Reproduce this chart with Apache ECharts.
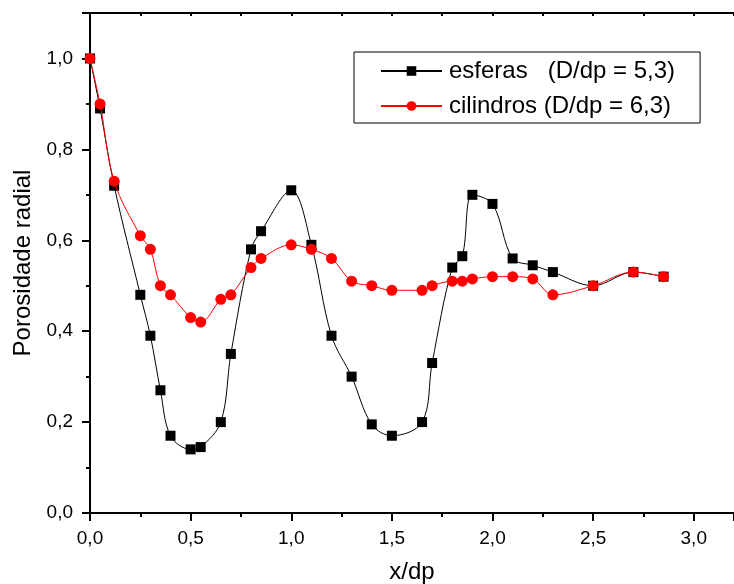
<!DOCTYPE html>
<html>
<head>
<meta charset="utf-8">
<script src="https://cdn.jsdelivr.net/npm/echarts@6/dist/echarts.min.js"></script>
<style>
html,body{margin:0;padding:0;background:#fff;}
#chart{width:734px;height:584px;}
</style>
</head>
<body>
<div id="chart"></div>
<script>
// x/dp positions
var xEsferas = [0, 0.05, 0.12, 0.25, 0.30, 0.35, 0.40, 0.50, 0.55, 0.65, 0.70, 0.80, 0.85, 1.00, 1.10, 1.20, 1.30, 1.40, 1.50, 1.65, 1.70, 1.80, 1.85, 1.90, 2.00, 2.10, 2.20, 2.30, 2.50, 2.70, 2.85];
var yEsferas = [1.00, 0.89, 0.72, 0.48, 0.39, 0.27, 0.17, 0.14, 0.145, 0.20, 0.35, 0.58, 0.62, 0.71, 0.59, 0.39, 0.30, 0.195, 0.17, 0.20, 0.33, 0.54, 0.565, 0.70, 0.68, 0.56, 0.545, 0.53, 0.50, 0.53, 0.52];
var xCilindros = [0, 0.05, 0.12, 0.25, 0.30, 0.35, 0.40, 0.50, 0.55, 0.65, 0.70, 0.80, 0.85, 1.00, 1.10, 1.20, 1.30, 1.40, 1.50, 1.65, 1.70, 1.80, 1.85, 1.90, 2.00, 2.10, 2.20, 2.30, 2.50, 2.70, 2.85];
var yCilindros = [1.00, 0.90, 0.73, 0.61, 0.58, 0.50, 0.48, 0.43, 0.42, 0.47, 0.48, 0.54, 0.56, 0.59, 0.58, 0.56, 0.51, 0.50, 0.49, 0.49, 0.50, 0.51, 0.51, 0.515, 0.52, 0.52, 0.515, 0.48, 0.50, 0.53, 0.52];
var seriesNames = ['esferas   (D/dp = 5,3)', 'cilindros (D/dp = 6,3)'];
var xTickValues = [0, 0.5, 1.0, 1.5, 2.0, 2.5, 3.0];
var yTickValues = [0, 0.2, 0.4, 0.6, 0.8, 1.0];
var xTitle = 'x/dp';
var yTitle = 'Porosidade radial';

function pairs(xs, ys) { return xs.map(function (x, i) { return [x, ys[i]]; }); }
function fmt(v, list) {
  for (var i = 0; i < list.length; i++) {
    if (Math.abs(list[i] - v) < 1e-6) return list[i].toFixed(1).replace('.', ',');
  }
  return '';
}
var FONT = '"Liberation Sans", Arial, Helvetica, sans-serif';
var chart = echarts.init(document.getElementById('chart'), null, {renderer: 'canvas'});
chart.setOption({
  animation: false,
  backgroundColor: '#fff',
  grid: {left: 90, top: 13, right: 0, bottom: 71, containLabel: false, outerBoundsMode: 'none'},
  legend: {
    orient: 'vertical',
    left: 354, top: 52,
    padding: [7, 25, 5, 26],
    itemWidth: 61, itemHeight: 12, itemGap: 11,
    borderColor: '#000', borderWidth: 1, backgroundColor: '#fff',
    textStyle: {fontFamily: FONT, fontSize: 24, color: '#000', lineHeight: 24, padding: [0, 0, 0, 2]},
    data: seriesNames
  },
  xAxis: [{
    type: 'value', min: 0, max: 3.2, interval: 0.5,
    name: xTitle, nameLocation: 'middle', nameGap: 47,
    nameTextStyle: {fontFamily: FONT, fontSize: 24, color: '#000'},
    axisLine: {show: true, onZero: false, lineStyle: {color: '#000', width: 2}},
    axisTick: {show: true, inside: false, length: 8, lineStyle: {color: '#000', width: 2}},
    minorTick: {show: true, splitNumber: 2, length: 4, lineStyle: {color: '#000', width: 2}},
    axisLabel: {fontFamily: FONT, fontSize: 19, color: '#000', margin: 16,
      formatter: function (v) { return fmt(v, xTickValues); }},
    splitLine: {show: false}
  }, {
    type: 'value', position: 'top', min: 0, max: 3.2, interval: 0.25,
    axisLine: {show: true, onZero: false, lineStyle: {color: '#000', width: 2}},
    axisTick: {show: true, inside: true, length: 3, lineStyle: {color: '#000', width: 2}},
    axisLabel: {show: false},
    splitLine: {show: false}
  }],
  yAxis: {
    type: 'value', min: 0, max: 1.1, interval: 0.2,
    name: yTitle, nameLocation: 'middle', nameGap: 46,
    nameTextStyle: {fontFamily: FONT, fontSize: 24, color: '#000'},
    axisLine: {show: true, onZero: false, lineStyle: {color: '#000', width: 2}},
    axisTick: {show: true, inside: false, length: 8, lineStyle: {color: '#000', width: 2}},
    minorTick: {show: true, splitNumber: 2, length: 4, lineStyle: {color: '#000', width: 2}},
    axisLabel: {fontFamily: FONT, fontSize: 19, color: '#000', margin: 17, showMaxLabel: false,
      formatter: function (v) { return fmt(v, yTickValues); }},
    splitLine: {show: false}
  },
  series: [{
    name: seriesNames[0], type: 'line', xAxisIndex: 0,
    data: pairs(xEsferas, yEsferas),
    smooth: 0.35,
    symbol: 'rect', symbolSize: 10,
    itemStyle: {color: '#000'},
    lineStyle: {color: '#000', width: 1},
    z: 2
  }, {
    name: seriesNames[1], type: 'line', xAxisIndex: 0,
    data: pairs(xCilindros, yCilindros),
    smooth: 0.35,
    symbol: 'circle', symbolSize: 11,
    itemStyle: {color: '#ff0000'},
    lineStyle: {color: '#ff0000', width: 1},
    z: 3
  }]
});
</script>
</body>
</html>
